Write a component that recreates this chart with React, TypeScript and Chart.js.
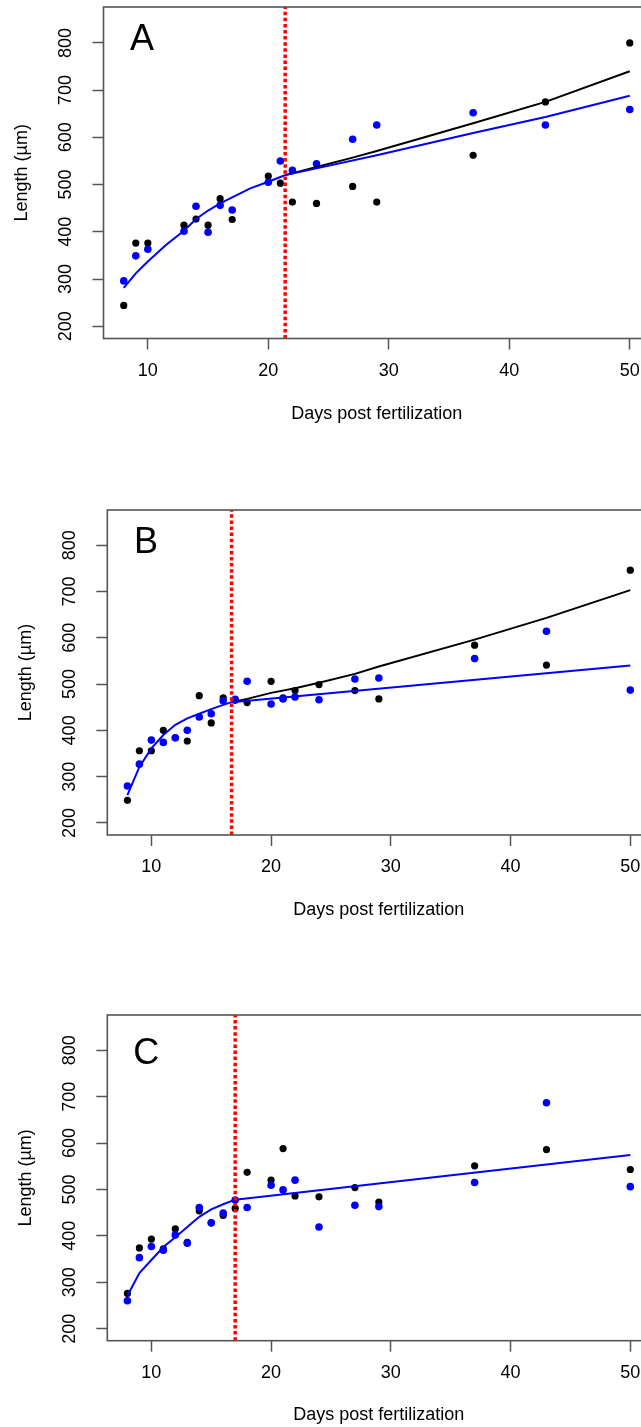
import React, { useEffect, useRef } from 'react';
import { Chart, registerables } from 'chart.js';

Chart.register(...registerables);

// ---- axis ranges / ticks ----
const X_MIN = 6.32;
const X_MAX = 51.68;
const Y_MIN = 174;
const Y_MAX = 876;
const X_TICKS = [10, 20, 30, 40, 50];
const Y_TICKS = [200, 300, 400, 500, 600, 700, 800];

const X_TITLE = 'Days post fertilization';
const Y_TITLE = 'Length (µm)';

// ---- Panel A ----
const A_DAYS = [8, 9, 10, 13, 14, 15, 16, 17, 20, 21, 22, 24, 27, 29, 37, 43, 50];
const A_BLACK = [244, 376, 376, 414, 427, 414, 470, 426, 518, 503, 463, 460, 496, 463, 562, 675, 800];
const A_BLUE = [296, 349, 363, 401, 454, 399, 456, 446, 505, 550, 530, 544, 596, 626, 652, 626, 659];
const A_BREAK = 21.4;
const A_CURVE_X = [8, 9, 10, 11.5, 13, 14, 15, 16, 17, 18.5, 20, 21, 21.4];
const A_CURVE_Y = [281, 312, 337, 372, 402, 427, 445, 460, 473, 492, 506, 516, 520];
const A_BLUE_LATE_X = [21.4, 29, 37, 43, 50];
const A_BLUE_LATE_Y = [520, 562, 609, 643, 688];
const A_BLACK_LATE_X = [21.4, 24, 27, 29, 37, 43, 50];
const A_BLACK_LATE_Y = [520, 537, 557, 571, 630, 675, 740];

// ---- Panel B ----
const B_DAYS = [8, 9, 10, 11, 12, 13, 14, 15, 16, 17, 18, 20, 21, 22, 24, 27, 29, 37, 43, 50];
const B_BLACK = [249, 356, 356, 400, 384, 377, 475, 416, 470, 465, 460, 506, 470, 486, 499, 486, 468, 584, 541, 746];
const B_BLUE = [280, 327, 379, 374, 384, 400, 429, 436, 464, 467, 506, 457, 468, 472, 466, 511, 513, 555, 614, 487];
const B_BREAK = 16.7;
const B_CURVE_X = [8, 9, 10, 11, 12, 13, 14, 15, 16, 16.7];
const B_CURVE_Y = [260, 321, 361, 390, 412, 426, 436, 446, 455, 461];
const B_BLUE_LATE_X = [16.7, 50];
const B_BLUE_LATE_Y = [461, 540];
const B_BLACK_LATE_X = [16.7, 18, 20, 22, 24, 27, 29, 37, 43, 50];
const B_BLACK_LATE_Y = [461, 468, 481, 491, 503, 522, 538, 596, 643, 703];

// ---- Panel C ----
const C_DAYS = [8, 9, 10, 11, 12, 13, 14, 15, 16, 17, 18, 20, 21, 22, 24, 27, 29, 37, 43, 50];
const C_BLACK = [276, 374, 393, 372, 415, 386, 454, 428, 444, 459, 537, 520, 588, 486, 484, 504, 473, 551, 586, 543];
const C_BLUE = [260, 353, 377, 369, 402, 384, 461, 428, 449, 477, 461, 509, 499, 520, 419, 466, 463, 515, 687, 506];
const C_BREAK = 17.0;
const C_CURVE_X = [8, 9, 10, 11, 12, 13, 14, 15, 16, 17];
const C_CURVE_Y = [271, 320, 348, 376, 397, 419, 441, 457, 468, 478];
const C_BLUE_LATE_X = [17, 50];
const C_BLUE_LATE_Y = [478, 574];
const C_BLACK_LATE_X: number[] = [];
const C_BLACK_LATE_Y: number[] = [];

// ---- styling / layout ----
const FONT = '"Liberation Sans", Arial, sans-serif';
const BOX_COLOR = '#555555';
const CANVAS_W = 690;
const CANVAS_H = 440;

type Panel = {
  letter: string;
  days: number[];
  black: number[];
  blue: number[];
  brk: number;
  curveX: number[];
  curveY: number[];
  blueLateX: number[];
  blueLateY: number[];
  blackLateX: number[];
  blackLateY: number[];
  canvasTop: number;
  left: number;
  right: number;
  top: number;
  bottom: number;
  yTitleX: number;
  xTitleY: number;
  letterDX: number;
  letterDY: number;
};

const PANELS: Panel[] = [
  {
    letter: 'A', days: A_DAYS, black: A_BLACK, blue: A_BLUE, brk: A_BREAK,
    curveX: A_CURVE_X, curveY: A_CURVE_Y, blueLateX: A_BLUE_LATE_X, blueLateY: A_BLUE_LATE_Y,
    blackLateX: A_BLACK_LATE_X, blackLateY: A_BLACK_LATE_Y,
    canvasTop: 0, left: 103.5, right: 650, top: 7, bottom: 338.5, yTitleX: 21.7, xTitleY: 414, letterDX: 26.5, letterDY: 42.5,
  },
  {
    letter: 'B', days: B_DAYS, black: B_BLACK, blue: B_BLUE, brk: B_BREAK,
    curveX: B_CURVE_X, curveY: B_CURVE_Y, blueLateX: B_BLUE_LATE_X, blueLateY: B_BLUE_LATE_Y,
    blackLateX: B_BLACK_LATE_X, blackLateY: B_BLACK_LATE_Y,
    canvasTop: 500, left: 107.3, right: 650.4, top: 510, bottom: 835, yTitleX: 25.7, xTitleY: 910, letterDX: 26.7, letterDY: 43.3,
  },
  {
    letter: 'C', days: C_DAYS, black: C_BLACK, blue: C_BLUE, brk: C_BREAK,
    curveX: C_CURVE_X, curveY: C_CURVE_Y, blueLateX: C_BLUE_LATE_X, blueLateY: C_BLUE_LATE_Y,
    blackLateX: C_BLACK_LATE_X, blackLateY: C_BLACK_LATE_Y,
    canvasTop: 1000, left: 107.3, right: 650.4, top: 1015, bottom: 1340.7, yTitleX: 25.7, xTitleY: 1415, letterDX: 26, letterDY: 48.5,
  },
];

const pts = (xs: number[], ys: number[]) => xs.map((x, i) => ({ x, y: ys[i] }));

const decorPlugin = {
  id: 'panelDecor',
  afterDraw(chart: any, _args: any, opts: any) {
    const { ctx, chartArea: a, scales } = chart;
    ctx.save();
    // box around the plot region
    ctx.strokeStyle = BOX_COLOR;
    ctx.lineWidth = 1.6;
    ctx.strokeRect(a.left, a.top, a.right - a.left, a.bottom - a.top);
    // y tick labels, rotated parallel to the axis
    const ys = scales.y;
    ctx.fillStyle = '#000';
    ctx.font = `18px ${FONT}`;
    ctx.textAlign = 'center';
    ctx.textBaseline = 'middle';
    ys.ticks.forEach((t: any) => {
      const py = ys.getPixelForValue(t.value);
      ctx.save();
      ctx.translate(a.left - 37.5, py);
      ctx.rotate(-Math.PI / 2);
      ctx.fillText(String(t.value), 0, 0);
      ctx.restore();
    });
    // panel letter
    ctx.font = `36px ${FONT}`;
    ctx.textAlign = 'left';
    ctx.textBaseline = 'alphabetic';
    ctx.fillText(opts.letter, a.left + opts.dx, a.top + opts.dy);
    ctx.restore();
  },
};

function makeChart(canvas: HTMLCanvasElement, p: Panel) {
  const top = p.top - p.canvasTop;
  const bottom = p.bottom - p.canvasTop;
  const xTitleCenter = p.xTitleY - p.canvasTop;
  const titleFont = { family: FONT, size: 18, lineHeight: 1.2 };
  const datasets: any[] = [
    {
      label: 'break',
      type: 'line',
      data: [{ x: p.brk, y: Y_MIN }, { x: p.brk, y: Y_MAX }],
      borderColor: '#ff0000',
      backgroundColor: '#ff0000',
      borderWidth: 3.5,
      borderDash: [3.5, 2.6],
      borderCapStyle: 'butt',
      pointRadius: 0,
      showLine: true,
      fill: false,
      tension: 0,
      order: 0,
    },
  ];
  if (p.blackLateX.length) {
    datasets.push({
      label: 'black fit',
      type: 'line',
      data: pts(p.blackLateX, p.blackLateY),
      borderColor: '#000000',
      backgroundColor: '#000000',
      borderWidth: 2,
      pointRadius: 0,
      tension: 0,
      fill: false,
      order: 2,
    });
  }
  datasets.push(
    {
      label: 'blue fit late',
      type: 'line',
      data: pts(p.blueLateX, p.blueLateY),
      borderColor: '#0000ff',
      backgroundColor: '#0000ff',
      borderWidth: 2,
      pointRadius: 0,
      tension: 0,
      fill: false,
      order: 1,
    },
    {
      label: 'blue fit early',
      type: 'line',
      data: pts(p.curveX, p.curveY),
      borderColor: '#0000ff',
      backgroundColor: '#0000ff',
      borderWidth: 2,
      pointRadius: 0,
      tension: 0,
      fill: false,
      order: 1,
    },
    {
      label: 'blue',
      data: pts(p.days, p.blue),
      backgroundColor: '#0000ff',
      borderColor: '#0000ff',
      borderWidth: 0,
      pointRadius: 3.8,
      pointBorderWidth: 0,
      order: 3,
    },
    {
      label: 'black',
      data: pts(p.days, p.black),
      backgroundColor: '#000000',
      borderColor: '#000000',
      borderWidth: 0,
      pointRadius: 3.6,
      pointBorderWidth: 0,
      order: 4,
    },
  );

  return new Chart(canvas, {
    type: 'scatter',
    data: { datasets },
    options: {
      responsive: false,
      animation: false,
      devicePixelRatio: 1,
      layout: { padding: { top, left: 0, right: CANVAS_W - p.right, bottom: 0 } },
      plugins: {
        legend: { display: false },
        tooltip: { enabled: false },
        panelDecor: { letter: p.letter, dx: p.letterDX, dy: p.letterDY },
      } as any,
      scales: {
        x: {
          type: 'linear',
          min: X_MIN,
          max: X_MAX,
          afterBuildTicks: (s: any) => {
            s.ticks = X_TICKS.map((v) => ({ value: v }));
          },
          ticks: {
            autoSkip: false,
            maxRotation: 0,
            minRotation: 0,
            padding: 10.7,
            color: '#000',
            font: { family: FONT, size: 18, lineHeight: 1.2 },
          },
          grid: {
            drawOnChartArea: false,
            drawTicks: true,
            tickLength: 11,
            tickColor: BOX_COLOR,
            tickWidth: 1.5,
          },
          border: { display: false },
          title: {
            display: true,
            text: X_TITLE,
            color: '#000',
            font: titleFont,
            padding: { top: 0, bottom: CANVAS_H - xTitleCenter - 10.8 },
          },
          afterFit: (s: any) => {
            s.height = CANVAS_H - bottom;
          },
        },
        y: {
          type: 'linear',
          min: Y_MIN,
          max: Y_MAX,
          afterBuildTicks: (s: any) => {
            s.ticks = Y_TICKS.map((v) => ({ value: v }));
          },
          ticks: {
            display: false,
          },
          grid: {
            drawOnChartArea: false,
            drawTicks: true,
            tickLength: 11,
            tickColor: BOX_COLOR,
            tickWidth: 1.5,
          },
          border: { display: false },
          title: {
            display: true,
            text: Y_TITLE,
            color: '#000',
            font: titleFont,
            padding: { top: p.yTitleX - 10.8, bottom: 0 },
          },
          afterFit: (s: any) => {
            s.width = p.left;
          },
        },
      },
    } as any,
    plugins: [decorPlugin],
  });
}

function PanelChart({ panel }: { panel: Panel }) {
  const ref = useRef<HTMLCanvasElement | null>(null);
  useEffect(() => {
    if (!ref.current) return;
    const chart = makeChart(ref.current, panel);
    return () => chart.destroy();
  }, [panel]);
  return (
    <canvas
      ref={ref}
      width={CANVAS_W}
      height={CANVAS_H}
      style={{ position: 'absolute', left: 0, top: panel.canvasTop, width: CANVAS_W, height: CANVAS_H }}
    />
  );
}

export default function App() {
  return (
    <div
      style={{
        position: 'absolute',
        left: 0,
        top: 0,
        width: 641,
        height: 1427,
        overflow: 'hidden',
        background: '#ffffff',
      }}
    >
      {PANELS.map((p) => (
        <PanelChart key={p.letter} panel={p} />
      ))}
    </div>
  );
}
